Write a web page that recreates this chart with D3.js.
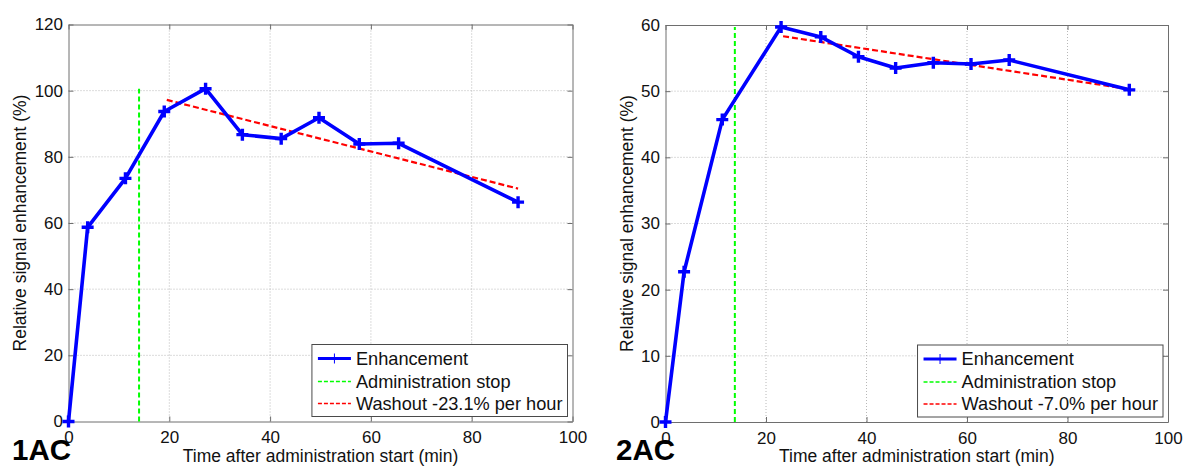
<!DOCTYPE html>
<html><head><meta charset="utf-8">
<script src="https://cdn.jsdelivr.net/npm/d3@7"></script>
<style>html,body{margin:0;padding:0;background:#fff;}svg{display:block;font-family:"Liberation Sans",Arial,sans-serif;}</style>
</head><body>
<svg id="chart" width="1186" height="466"></svg>
<script>
// ---- Data ----
const timeA = [0, 3.8, 11.3, 19.0, 27.2, 34.5, 42.2, 49.7, 57.7, 65.5, 89.2];
const enhA  = [0, 58.7, 73.5, 93.7, 100.6, 86.7, 85.5, 91.8, 83.9, 84.1, 66.3];
const stopA = 14.0;
const washTimeA = [19.5, 89.2];
const washValA  = [97.2, 70.4];
const washRateA = "-23.1";

const timeB = [0, 3.7, 11.3, 23.0, 30.9, 38.4, 45.8, 53.3, 60.8, 68.4, 92.3];
const enhB  = [0, 22.7, 45.7, 59.7, 58.2, 55.2, 53.5, 54.3, 54.1, 54.7, 50.2];
const stopB = 13.8;
const washTimeB = [23.4, 92.3];
const washValB  = [58.3, 50.3];
const washRateB = "-7.0";

const xTicks = [0, 20, 40, 60, 80, 100];
const yTicksA = [0, 20, 40, 60, 80, 100, 120];
const yTicksB = [0, 10, 20, 30, 40, 50, 60];
const panelLabels = ["1AC", "2AC"];
const xLabel = "Time after administration start (min)";
const yLabel = "Relative signal enhancement (%)";

const svg = d3.select("#chart");

function panel(cfg) {
  const {x0, x1, y0, y1, time, enh, stop, washT, washV, rate, yTicks, label, labelX, ylabX, yPad} = cfg;
  const x = d3.scaleLinear().domain([0, 100]).range([x0, x1]);
  const y = d3.scaleLinear().domain([0, d3.max(yTicks)]).range([y1, y0]);
  const g = svg.append("g");

  // grid
  const gridColor = "#b8b8b8";
  g.append("g").selectAll("line").data(xTicks.slice(1, -1)).join("line")
    .attr("x1", d => x(d)).attr("x2", d => x(d)).attr("y1", y0).attr("y2", y1)
    .attr("stroke", gridColor).attr("stroke-width", 1).attr("stroke-dasharray", "1,2");
  g.append("g").selectAll("line").data(yTicks.slice(1, -1)).join("line")
    .attr("y1", d => y(d)).attr("y2", d => y(d)).attr("x1", x0).attr("x2", x1)
    .attr("stroke", gridColor).attr("stroke-width", 1).attr("stroke-dasharray", "1,2");

  // axes (MATLAB style: inward ticks on all four sides)
  const axColor = "#6e6e6e";
  const fs = "17px";
  const bottom = g.append("g").attr("transform", `translate(0,${y1})`)
    .call(d3.axisBottom(x).tickValues(xTicks).tickSizeInner(-5).tickSizeOuter(0).tickPadding(9.5));
  const top = g.append("g").attr("transform", `translate(0,${y0})`)
    .call(d3.axisTop(x).tickValues(xTicks).tickSizeInner(-5).tickSizeOuter(0).tickFormat(""));
  const left = g.append("g").attr("transform", `translate(${x0},0)`)
    .call(d3.axisLeft(y).tickValues(yTicks).tickSizeInner(-5).tickSizeOuter(0).tickPadding(yPad));
  const right = g.append("g").attr("transform", `translate(${x1},0)`)
    .call(d3.axisRight(y).tickValues(yTicks).tickSizeInner(-5).tickSizeOuter(0).tickFormat(""));
  [bottom, top, left, right].forEach(a => {
    a.selectAll("path").attr("stroke", axColor);
    a.selectAll("line").attr("stroke", axColor);
    a.selectAll("text").attr("fill", "#111").style("font-size", fs)
      .style("font-family", '"Liberation Sans",Arial,sans-serif');
  });

  // administration stop (green)
  g.append("line")
    .attr("x1", x(stop)).attr("x2", x(stop)).attr("y1", y(0)).attr("y2", y(d3.max(enh)))
    .attr("stroke", "#00ff00").attr("stroke-width", 2).attr("stroke-dasharray", "5,3");

  // washout fit (red)
  g.append("line")
    .attr("x1", x(washT[0])).attr("x2", x(washT[1])).attr("y1", y(washV[0])).attr("y2", y(washV[1]))
    .attr("stroke", "#ff0000").attr("stroke-width", 2.2).attr("stroke-dasharray", "6,3");

  // enhancement line
  const pts = time.map((t, i) => [t, enh[i]]);
  g.append("path").datum(pts)
    .attr("d", d3.line().x(d => x(d[0])).y(d => y(d[1])))
    .attr("fill", "none").attr("stroke", "#0000ff").attr("stroke-width", 3.6)
    .attr("stroke-linejoin", "round");
  const m = 6;
  g.append("g").selectAll("path").data(pts).join("path")
    .attr("d", d => `M${x(d[0]) - m},${y(d[1])}H${x(d[0]) + m}M${x(d[0])},${y(d[1]) - m}V${y(d[1]) + m}`)
    .attr("stroke", "#0000ff").attr("stroke-width", 3.4).attr("fill", "none");

  // axis labels
  g.append("text").attr("x", (x0 + x1) / 2).attr("y", 461.5)
    .attr("text-anchor", "middle").style("font-size", "17.5px").attr("fill", "#111").text(xLabel);
  g.append("text").attr("transform", `translate(${ylabX},${(y0 + y1) / 2}) rotate(-90)`)
    .attr("text-anchor", "middle").style("font-size", "17.5px").attr("fill", "#111").text(yLabel);

  // panel label
  g.append("text").attr("x", labelX).attr("y", 459.5)
    .style("font-size", "29.5px").style("font-weight", "bold").attr("fill", "#000").text(label);

  // legend
  const entries = [
    {name: "Enhancement", color: "#0000ff", dash: null, w: 3, marker: true},
    {name: "Administration stop", color: "#00ff00", dash: "4,2", w: 1.6},
    {name: `Washout ${rate}% per hour`, color: "#ff0000", dash: "4,2", w: 1.6}
  ];
  const lg = g.append("g");
  const box = lg.append("rect").attr("fill", "#fff").attr("stroke", "#4a4a4a").attr("stroke-width", 1);
  const texts = entries.map((e, i) => lg.append("text").attr("x", 0).attr("y", 0)
    .style("font-size", "18.2px").attr("fill", "#111").text(e.name));
  const tw = d3.max(texts, t => t.node().getComputedTextLength());
  const sampleW = 33, padL = 6, gapT = 5, padR = 5;
  const bw = padL + sampleW + gapT + tw + padR;
  const bh = 72;
  const bx = x1 - 5 - bw, by = y1 - 5 - bh;
  box.attr("x", bx).attr("y", by).attr("width", bw).attr("height", bh);
  const rowY = [14, 37, 59];
  entries.forEach((e, i) => {
    const cy = by + rowY[i];
    lg.append("line").attr("x1", bx + padL).attr("x2", bx + padL + sampleW).attr("y1", cy).attr("y2", cy)
      .attr("stroke", e.color).attr("stroke-width", e.w).attr("stroke-dasharray", e.dash);
    if (e.marker) {
      lg.append("line").attr("x1", bx + padL + sampleW / 2).attr("x2", bx + padL + sampleW / 2)
        .attr("y1", cy - 5).attr("y2", cy + 5).attr("stroke", e.color).attr("stroke-width", 1);
    }
    texts[i].attr("x", bx + padL + sampleW + gapT).attr("y", cy).attr("dy", "0.35em");
  });
}

panel({x0: 68.5, x1: 572.5, y0: 24.5, y1: 421.5, time: timeA, enh: enhA, stop: stopA,
  washT: washTimeA, washV: washValA, rate: washRateA, yTicks: yTicksA, label: panelLabels[0], labelX: 12, ylabX: 26, yPad: 5.5});
panel({x0: 665.5, x1: 1168, y0: 25, y1: 422, time: timeB, enh: enhB, stop: stopB,
  washT: washTimeB, washV: washValB, rate: washRateB, yTicks: yTicksB, label: panelLabels[1], labelX: 616, ylabX: 633, yPad: 5.5});
</script>
</body></html>
